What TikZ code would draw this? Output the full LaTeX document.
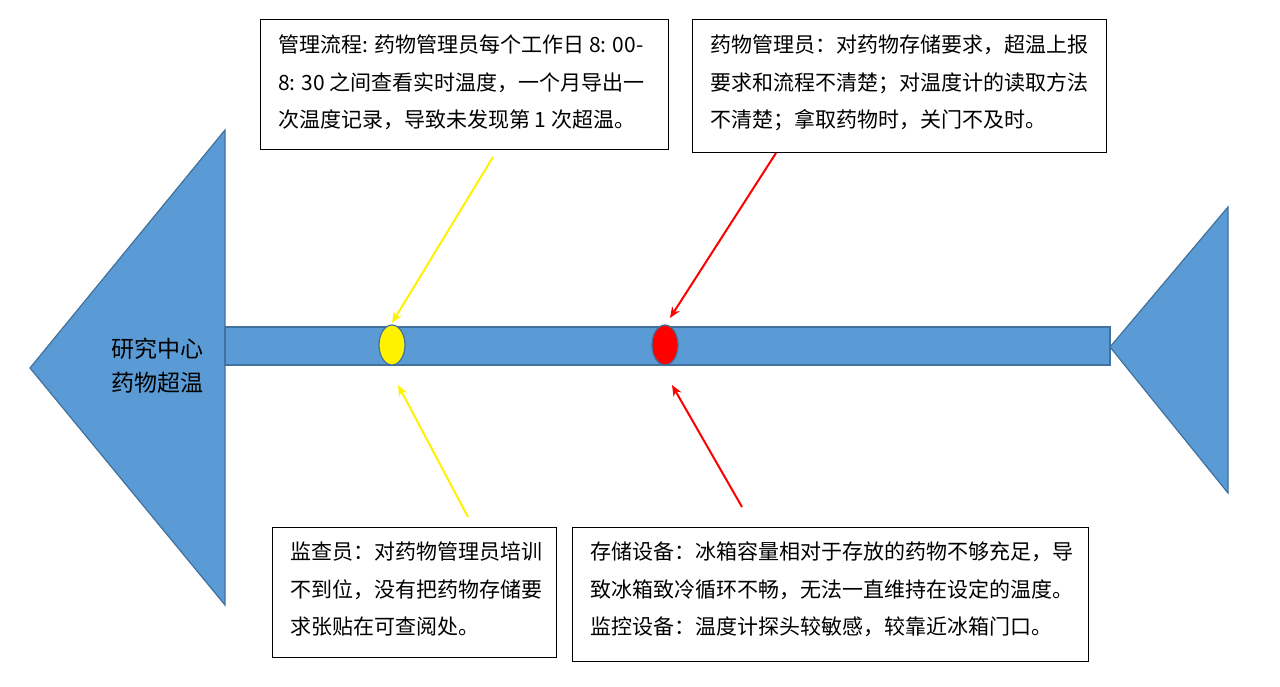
\documentclass[tikz,border=0pt]{standalone}
\usepackage{fontspec}
\setmainfont{Noto Sans CJK SC}
\usetikzlibrary{arrows.meta}
\definecolor{fishblue}{HTML}{5B9BD5}
\definecolor{fishedge}{HTML}{41719C}
\begin{document}
\begin{tikzpicture}[x=1pt,y=-1pt,
  fish/.style={fill=fishblue,draw=fishedge,line width=1.2pt},
  tbox/.style={draw=black,line width=1pt,fill=white},
  txt/.style={anchor=north west,align=left,font=\fontsize{21}{37.5}\selectfont,inner sep=0pt},
  yarr/.style={draw=yellow,line width=2pt,-{Stealth[length=11pt,width=9pt]}},
  rarr/.style={draw=red,line width=2pt,-{Stealth[length=11pt,width=9pt]}}]
\useasboundingbox (0,0) rectangle (1280,687);
\draw[fish] (30,368) -- (225,130) -- (225,605) -- cycle;
\draw[fish] (225,327) rectangle (1110,365);
\draw[fish] (1110,347) -- (1228,207) -- (1228,493) -- cycle;
\node[font=\fontsize{23}{34}\selectfont,align=center] (head) at (157,366) {研究中心\\药物超温};
\draw[fill=yellow,draw=fishedge,line width=1.2pt] (392,345) ellipse (13 and 20);
\node (ye) at (392,345) {};
\draw[fill=red,draw=fishedge,line width=1.2pt] (665,345) ellipse (13 and 20);
\node (re) at (665,345) {};
\draw[tbox] (260,20) rectangle (668,150);
\node[txt] (t1) at (278,35) {管理流程: 药物管理员每个工作日 8: 00-\\8: 30 之间查看实时温度，一个月导出一\\次温度记录，导致未发现第 1 次超温。};
\draw[tbox] (692,20) rectangle (1106,153);
\node[txt] (t2) at (710,35) {药物管理员：对药物存储要求，超温上报\\要求和流程不清楚；对温度计的读取方法\\不清楚；拿取药物时，关门不及时。};
\draw[tbox] (272,527) rectangle (556,657);
\node[txt] (t3) at (290,542) {监查员：对药物管理员培训\\不到位，没有把药物存储要\\求张贴在可查阅处。};
\draw[tbox] (572,527) rectangle (1088,661);
\node[txt] (t4) at (590,542) {存储设备：冰箱容量相对于存放的药物不够充足，导\\致冰箱致冷循环不畅，无法一直维持在设定的温度。\\监控设备：温度计探头较敏感，较靠近冰箱门口。};
\coordinate (a1s) at (493,157); \coordinate (a1e) at (392,323);
\coordinate (a2s) at (468,517); \coordinate (a2e) at (398,385);
\coordinate (a3s) at (776,153); \coordinate (a3e) at (670,318);
\coordinate (a4s) at (742,507); \coordinate (a4e) at (672,385);
\draw[yarr] (a1s) -- (a1e);
\draw[yarr] (a2s) -- (a2e);
\draw[rarr] (a3s) -- (a3e);
\draw[rarr] (a4s) -- (a4e);
\end{tikzpicture}
\end{document}
